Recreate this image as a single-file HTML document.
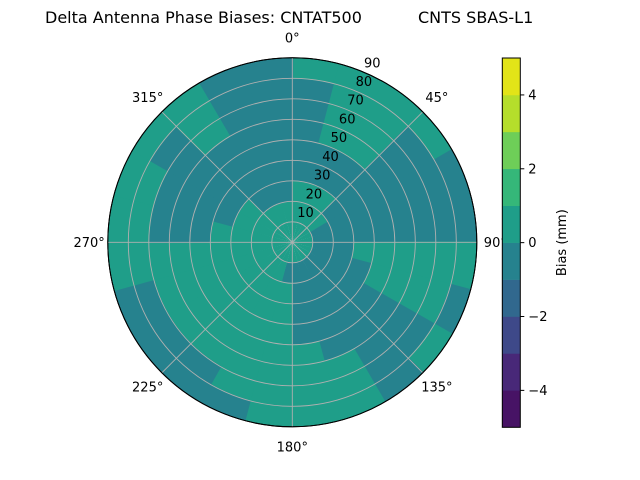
<!DOCTYPE html>
<html><head><meta charset="utf-8"><style>
html,body{margin:0;padding:0;background:#fff;}
svg{display:block;font-family:"DejaVu Sans","Liberation Sans",sans-serif;}
</style></head><body>
<svg id="chart" width="640" height="480" viewBox="0 0 640 480">
<text x="45" y="23" font-size="16" fill="#000">Delta Antenna Phase Biases: CNTAT500</text>
<text x="418" y="23" font-size="16" fill="#000">CNTS SBAS-L1</text>
<g id="cells"></g>
<g id="grid"></g>
<g id="labels"></g>
<g id="cbar"></g>
</svg>
<script>
// data
const levels = [-5,-4,-3,-2,-1,0,1,2,3,4,5];
const levelColors = ["#471365","#482878","#3e4989","#31688e","#26828e","#1f9e89","#35b779","#6ece58","#b5de2b","#e2e418"];
const azimuthSectors = [0,15,30,45,60,75,90,105,120,135,150,165,180,195,210,225,240,255,270,285,300,315,330,345];
const ringEdges = [0,10,20,30,40,50,60,70,80,90];
const T=-0.4, G=0.4;
const biasGrid = [
 [G,G,G,T,T,T,T,T,G],
 [G,G,G,T,T,G,G,G,G],
 [G,G,G,T,T,G,G,G,G],
 [G,G,T,T,T,T,T,T,G],
 [G,T,T,T,T,T,T,T,T],
 [G,T,T,T,T,T,T,T,T],
 [G,T,T,G,G,G,G,G,G],
 [G,T,T,T,G,G,G,G,T],
 [G,T,T,T,T,T,T,T,G],
 [G,T,T,T,T,T,T,T,T],
 [G,T,T,T,T,T,G,G,G],
 [G,T,T,T,T,G,G,G,G],
 [G,T,G,G,G,G,G,G,G],
 [G,G,G,G,G,G,G,G,T],
 [G,G,G,G,G,G,G,T,T],
 [G,G,G,G,G,G,G,T,T],
 [G,G,G,G,G,G,G,T,T],
 [G,G,G,G,G,G,G,G,G],
 [G,G,G,G,T,T,T,G,G],
 [G,G,G,T,T,T,T,G,G],
 [G,G,G,T,T,T,T,T,G],
 [G,G,T,T,T,T,G,G,G],
 [G,G,T,T,T,T,T,T,T],
 [G,G,T,T,T,T,T,T,T]
];
const radialTicks = [10,20,30,40,50,60,70,80,90];
const angleTicks = [0,45,90,135,180,225,270,315];
const cbarTicks = [-4,-2,0,2,4];

const NS="http://www.w3.org/2000/svg";
const cx=292.3, cy=242.3, R=184.5, rMax=90;
const rScale=v=>v/rMax*R;
const pt=(az,r)=>{const a=az*Math.PI/180;return [cx+r*Math.sin(a), cy-r*Math.cos(a)];};
function colorFor(v){for(let i=0;i<levels.length-1;i++){if(v>=levels[i]&&v<levels[i+1])return levelColors[i];}return levelColors[levelColors.length-1];}
function mk(tag,attrs,parent){const e=document.createElementNS(NS,tag);for(const k in attrs)e.setAttribute(k,attrs[k]);parent.appendChild(e);return e;}

const cells=document.getElementById('cells');
const secW=360/azimuthSectors.length;
azimuthSectors.forEach((a0,i)=>{
  biasGrid[i].forEach((v,j)=>{
    const r0=rScale(ringEdges[j]), r1=rScale(ringEdges[j+1]);
    const a1=a0+secW;
    const p1=pt(a0-0.3,r1),p2=pt(a1+0.3,r1),p3=pt(a1+0.3,Math.max(r0-0.5,0)),p4=pt(a0-0.3,Math.max(r0-0.5,0));
    const d=`M${p4[0]},${p4[1]} L${p1[0]},${p1[1]} A${r1},${r1} 0 0 1 ${p2[0]},${p2[1]} L${p3[0]},${p3[1]} A${r0},${r0} 0 0 0 ${p4[0]},${p4[1]}Z`;
    const e=mk('path',{d:d,fill:colorFor(v)},cells);
    
    
  });
});

const grid=document.getElementById('grid');
radialTicks.forEach(t=>{
  const c=mk('circle',{cx:cx,cy:cy,r:rScale(t),fill:'none',stroke:t===rMax?'#000':'#b0b0b0','stroke-width':t===rMax?1:0.9},grid);
  
  
});
angleTicks.forEach(a=>{
  const p=pt(a,R);
  const l=mk('line',{x1:cx,y1:cy,x2:p[0],y2:p[1],stroke:'#b0b0b0','stroke-width':0.9},grid);
  
  
});
const fr=mk('circle',{cx:cx,cy:cy,r:R,fill:'none',stroke:'#000','stroke-width':1},grid);



const labels=document.getElementById('labels');
radialTicks.forEach(t=>{
  const p=pt(24,rScale(t)+12);
  const e=mk('text',{x:p[0],y:p[1]+4.5,'font-size':13,'text-anchor':'middle',fill:'#000'},labels);
  e.textContent=String(t);
  
  
});
angleTicks.forEach(a=>{
  const p=pt(a,R+20);
  let anchor='middle', x=p[0];
  if(a===90){anchor='start';x=cx+R+7;}
  if(a===270){anchor='end';x=cx-R-3;}
  const e=mk('text',{x:x,y:p[1]+4.5,'font-size':13,'text-anchor':anchor,fill:'#000'},labels);
  e.textContent=a+'°';
  
  
});

const cbar=document.getElementById('cbar');
const cbX=502.3, cbW=18, cbTop=58, cbBot=427.3;
const cbY=v=>cbBot-(v-levels[0])/(levels[levels.length-1]-levels[0])*(cbBot-cbTop);
levelColors.forEach((c,i)=>{
  const y1=cbY(levels[i+1]), y0=cbY(levels[i]);
  const r=mk('rect',{x:cbX,y:y1,width:cbW,height:y0-y1+0.3,fill:c},cbar);
  
  
});
const cf=mk('rect',{x:cbX,y:cbTop,width:cbW,height:cbBot-cbTop,fill:'none',stroke:'#000','stroke-width':1},cbar);


cbarTicks.forEach(t=>{
  const y=cbY(t);
  const l=mk('line',{x1:cbX+cbW,y1:y,x2:cbX+cbW+4,y2:y,stroke:'#000','stroke-width':1},cbar);
  
  
  const e=mk('text',{x:cbX+cbW+8,y:y+4.5,'font-size':13,fill:'#000'},cbar);
  e.textContent=t<0?'\u2212'+Math.abs(t):String(t);
  
  
});
const bl=mk('text',{x:0,y:0,'font-size':13,'text-anchor':'middle',fill:'#000',transform:`translate(566,${(cbTop+cbBot)/2}) rotate(-90)`},cbar);
bl.textContent='Bias (mm)';


</script>
</body></html>
